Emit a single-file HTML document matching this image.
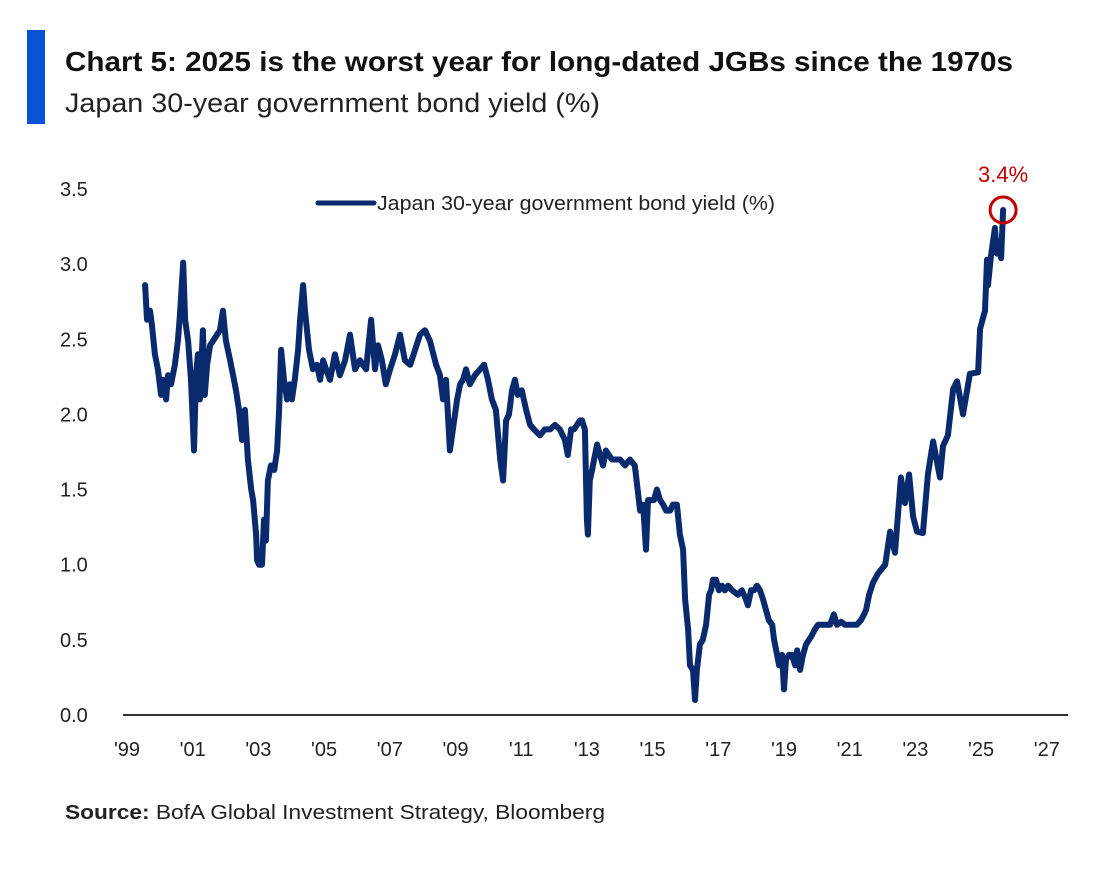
<!DOCTYPE html>
<html><head><meta charset="utf-8"><style>
html,body{margin:0;padding:0;background:#fff;}
svg{display:block;font-family:"Liberation Sans",sans-serif;}
</style></head><body>
<svg id="chart" width="1104" height="878" viewBox="0 0 1104 878">
<rect x="27" y="30" width="18" height="94" fill="#0a53d6"/>
<text x="65" y="71" font-size="28" font-weight="bold" fill="#111" textLength="948" lengthAdjust="spacingAndGlyphs">Chart 5: 2025 is the worst year for long-dated JGBs since the 1970s</text>
<text x="65" y="112" font-size="27" fill="#222" textLength="535" lengthAdjust="spacingAndGlyphs">Japan 30-year government bond yield (%)</text>
<g id="yaxis"></g>
<g id="xaxis"></g>
<line x1="123" y1="715" x2="1068" y2="715" stroke="#333" stroke-width="2"/>
<line x1="318" y1="203" x2="374" y2="203" stroke="#0a2a6e" stroke-width="5" stroke-linecap="round"/>
<text x="377" y="210" font-size="20" fill="#222" textLength="398" lengthAdjust="spacingAndGlyphs">Japan 30-year government bond yield (%)</text>
<path id="series" fill="none" stroke="#0a2a6e" stroke-width="6" stroke-linejoin="round" stroke-linecap="round"/>
<circle id="hl" r="13" fill="none" stroke="#c00000" stroke-width="3"/>
<text id="hltext" font-size="22" fill="#c00000" text-anchor="middle">3.4%</text>
<text x="65" y="819" font-size="20" fill="#222" textLength="540" lengthAdjust="spacingAndGlyphs"><tspan font-weight="bold">Source:</tspan> BofA Global Investment Strategy, Bloomberg</text>
</svg>
<script>
const baseYear = 1999;
const yearOffsets = [0.58,0.64,0.73,0.79,0.88,0.97,1.07,1.13,1.22,1.28,1.37,1.49,1.58,1.64,1.74,1.80,1.89,1.98,2.07,2.13,2.19,2.25,2.34,2.40,2.47,2.56,2.65,2.77,2.86,2.95,3.04,3.17,3.26,3.35,3.44,3.53,3.62,3.71,3.81,3.87,3.96,3.99,4.05,4.14,4.20,4.26,4.32,4.41,4.51,4.60,4.66,4.72,4.81,4.90,4.99,5.05,5.14,5.24,5.30,5.39,5.45,5.57,5.69,5.81,5.91,6.00,6.09,6.21,6.36,6.51,6.67,6.82,6.97,7.12,7.31,7.46,7.58,7.67,7.79,7.91,8.04,8.19,8.34,8.49,8.65,8.80,8.95,9.10,9.25,9.44,9.56,9.65,9.74,9.86,9.95,10.08,10.17,10.26,10.35,10.47,10.62,10.78,10.90,11.02,11.14,11.26,11.39,11.48,11.57,11.66,11.75,11.84,11.93,12.05,12.18,12.30,12.42,12.60,12.75,12.91,13.06,13.21,13.36,13.45,13.55,13.64,13.73,13.82,13.88,13.97,14.03,14.06,14.12,14.19,14.25,14.34,14.43,14.52,14.61,14.70,14.79,15.04,15.19,15.34,15.49,15.65,15.74,15.83,15.89,15.98,16.07,16.16,16.26,16.35,16.44,16.56,16.65,16.77,16.86,16.96,17.02,17.11,17.17,17.26,17.32,17.38,17.47,17.56,17.66,17.75,17.81,17.87,17.96,18.05,18.14,18.23,18.33,18.45,18.63,18.75,18.87,18.93,19.03,19.12,19.21,19.30,19.39,19.48,19.57,19.67,19.73,19.82,19.88,19.97,20.03,20.09,20.18,20.27,20.37,20.43,20.52,20.61,20.70,20.79,20.88,20.97,21.07,21.19,21.31,21.43,21.55,21.64,21.77,21.89,22.01,22.13,22.25,22.37,22.47,22.53,22.62,22.74,22.89,23.11,23.26,23.41,23.59,23.71,23.84,23.96,24.08,24.26,24.41,24.57,24.78,24.87,25.02,25.18,25.30,25.48,25.69,25.94,26.00,26.15,26.21,26.24,26.33,26.45,26.51,26.58,26.64,26.70];
const yields = [2.86,2.63,2.69,2.59,2.40,2.30,2.13,2.23,2.10,2.26,2.20,2.33,2.49,2.66,3.01,2.63,2.49,2.23,1.76,2.26,2.40,2.10,2.56,2.13,2.33,2.46,2.49,2.53,2.56,2.69,2.49,2.36,2.26,2.16,2.03,1.83,2.03,1.70,1.50,1.43,1.20,1.03,1.00,1.00,1.30,1.16,1.56,1.66,1.63,1.76,2.03,2.43,2.23,2.10,2.20,2.10,2.23,2.43,2.63,2.86,2.69,2.43,2.30,2.33,2.23,2.36,2.30,2.23,2.40,2.26,2.36,2.53,2.30,2.36,2.30,2.63,2.30,2.46,2.36,2.20,2.30,2.40,2.53,2.36,2.33,2.43,2.53,2.56,2.49,2.33,2.26,2.10,2.23,1.76,1.90,2.10,2.20,2.23,2.30,2.20,2.26,2.30,2.33,2.23,2.10,2.03,1.70,1.56,1.96,2.00,2.16,2.23,2.13,2.16,2.03,1.93,1.90,1.86,1.90,1.90,1.93,1.90,1.83,1.73,1.90,1.90,1.93,1.96,1.96,1.90,1.30,1.20,1.56,1.63,1.70,1.80,1.73,1.66,1.76,1.73,1.70,1.70,1.66,1.70,1.66,1.36,1.40,1.10,1.43,1.43,1.43,1.50,1.43,1.40,1.36,1.36,1.40,1.40,1.20,1.10,0.77,0.57,0.33,0.30,0.10,0.30,0.47,0.50,0.60,0.80,0.83,0.90,0.90,0.83,0.86,0.83,0.86,0.83,0.80,0.83,0.77,0.73,0.83,0.83,0.86,0.83,0.77,0.70,0.63,0.60,0.50,0.40,0.33,0.40,0.17,0.37,0.40,0.40,0.33,0.43,0.30,0.40,0.47,0.50,0.53,0.57,0.60,0.60,0.60,0.60,0.67,0.60,0.62,0.60,0.60,0.60,0.60,0.63,0.67,0.70,0.80,0.88,0.94,1.00,1.22,1.08,1.58,1.41,1.60,1.32,1.22,1.21,1.60,1.82,1.58,1.79,1.86,2.17,2.22,2.00,2.27,2.28,2.57,2.69,3.03,2.86,3.05,3.24,3.07,3.15,3.04,3.36];
const yTicks = [0,0.5,1.0,1.5,2.0,2.5,3.0,3.5];
const xTickYears = [1999,2001,2003,2005,2007,2009,2011,2013,2015,2017,2019,2021,2023,2025,2027];
const xTickLabels = ["'99","'01","'03","'05","'07","'09","'11","'13","'15","'17","'19","'21","'23","'25","'27"];
const latestLabel = "3.4%";

const NS="http://www.w3.org/2000/svg";
function xs(yr){return 126+(yr-1999)*32.85;}
function ys(v){return 715-v*150.3;}
const yg=document.getElementById('yaxis');
yTicks.forEach(t=>{
  const el=document.createElementNS(NS,'text');
  
  
  el.setAttribute('x',60);el.setAttribute('y',ys(t)+7);
  el.setAttribute('font-size','20');el.setAttribute('fill','#222');
  el.textContent=t.toFixed(1);yg.appendChild(el);
});
const xg=document.getElementById('xaxis');
xTickYears.forEach((yr,i)=>{
  const el=document.createElementNS(NS,'text');
  
  
  el.setAttribute('x',xs(yr)+1);el.setAttribute('y',756);
  el.setAttribute('font-size','20');el.setAttribute('fill','#222');
  el.setAttribute('text-anchor','middle');
  el.textContent=xTickLabels[i];xg.appendChild(el);
});
let d='';
yearOffsets.forEach((o,i)=>{d+=(i?'L':'M')+xs(baseYear+o).toFixed(1)+','+ys(yields[i]).toFixed(1);});
document.getElementById('series').setAttribute('d',d);
const n=yields.length-1;
const cx=xs(baseYear+yearOffsets[n]), cy=ys(yields[n]);
const c=document.getElementById('hl');c.setAttribute('cx',cx);c.setAttribute('cy',cy);
const ht=document.getElementById('hltext');ht.setAttribute('x',cx);ht.setAttribute('y',cy-28);ht.textContent=latestLabel;
</script>
</body></html>
